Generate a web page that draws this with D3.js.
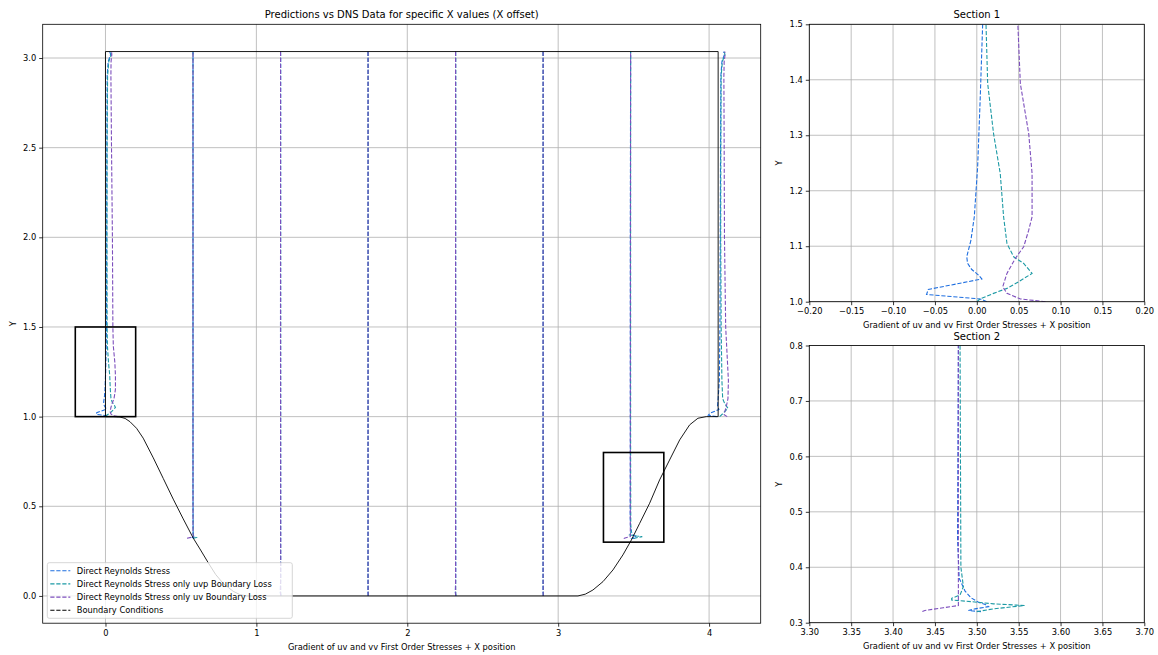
<!DOCTYPE html>
<html>
<head>
<meta charset="utf-8">
<script src="https://cdn.jsdelivr.net/npm/d3@7"></script>
<style>
  body { margin: 0; background: #fff; }
  text { font-family: "DejaVu Sans", sans-serif; fill: #000; }
</style>
</head>
<body>
<div id="myDiv"></div>
<script>
//--------------------------------------------------
// Data
//--------------------------------------------------

// x offset of every DNS station
var stationX = [0, 0.58, 1.16, 1.74, 2.32, 2.90, 3.48, 4.06];

// profiles: [y, gradient value] per station, one array per model
var directProfiles = [
  [[1.0, 0.012], [1.005, 0.004], [1.013, -0.060], [1.022, -0.058], [1.041, 0.006], [1.048, 0.002], [1.058, -0.006], [1.069, -0.011], [1.081, -0.012], [1.111, -0.007], [1.153, -0.003], [1.243, 0.001], [1.363, 0.004], [1.5, 0.007], [2.0, 0.008], [2.5, 0.009], [2.9, 0.011], [2.98, 0.018], [3.02, 0.034], [3.036, 0.028]],
  [[0.322, 0.010], [0.326, -0.004], [0.332, 0.006], [0.345, 0.001], [0.6, 0.0], [1.5, 0.0], [3.0, 0.0], [3.036, 0.0]],
  [[0.0, 0.003], [0.02, -0.002], [0.1, 0.001], [1.5, 0.0], [3.0, 0.001], [3.036, 0.0]],
  [[0.0, 0.002], [0.02, -0.001], [0.1, 0.0], [1.5, 0.0], [3.0, 0.001], [3.036, 0.0]],
  [[0.0, 0.002], [0.02, -0.002], [0.1, 0.001], [1.5, 0.0], [3.0, 0.0], [3.036, 0.0]],
  [[0.0, 0.003], [0.02, -0.001], [0.1, 0.0], [1.5, 0.0], [3.0, 0.001], [3.036, 0.0]],
  [[0.32, 0.025], [0.322, 0.010], [0.325, 0.018], [0.329, 0.034], [0.333, 0.030], [0.337, 0.022], [0.345, 0.013], [0.357, 0.006], [0.38, -0.001], [0.45, -0.003], [0.8, -0.002], [2.0, -0.002], [3.036, 0.0]],
  [[1.0, -0.010], [1.008, -0.065], [1.02, -0.050], [1.04, 0.005], [1.06, -0.004], [1.1, 0.0], [1.2, 0.008], [1.5, 0.012], [2.0, 0.014], [2.5, 0.016], [2.9, 0.018], [2.98, 0.025], [3.02, 0.042], [3.036, 0.036]]
];

var uvpProfiles = [
  [[1.0, 0.0], [1.005, 0.004], [1.015, 0.020], [1.024, 0.036], [1.036, 0.050], [1.051, 0.066], [1.069, 0.056], [1.081, 0.044], [1.105, 0.036], [1.153, 0.032], [1.231, 0.028], [1.303, 0.020], [1.393, 0.013], [1.5, 0.011], [2.0, 0.010], [2.5, 0.011], [2.9, 0.014], [2.98, 0.022], [3.02, 0.038], [3.036, 0.034]],
  [[0.322, 0.0], [0.326, 0.022], [0.334, 0.004], [0.35, 0.001], [0.6, 0.0], [1.5, 0.0], [3.0, 0.0], [3.036, 0.0]],
  [[0.0, 0.002], [0.02, 0.001], [0.1, 0.0], [1.5, 0.001], [3.0, 0.0], [3.036, 0.0]],
  [[0.0, 0.001], [0.02, 0.002], [0.1, 0.0], [1.5, 0.001], [3.0, 0.0], [3.036, 0.0]],
  [[0.0, 0.002], [0.02, 0.001], [0.1, 0.0], [1.5, 0.0], [3.0, 0.001], [3.036, 0.0]],
  [[0.0, 0.001], [0.02, 0.002], [0.1, 0.0], [1.5, 0.001], [3.0, 0.0], [3.036, 0.0]],
  [[0.32, 0.020], [0.325, 0.040], [0.331, 0.077], [0.334, 0.040], [0.337, 0.020], [0.341, -0.010], [0.344, -0.010], [0.35, 0.0], [0.365, 0.004], [0.4, 0.001], [0.8, 0.0], [3.036, 0.0]],
  [[1.0, 0.010], [1.02, 0.035], [1.047, 0.065], [1.07, 0.045], [1.1, 0.030], [1.2, 0.025], [1.5, 0.020], [2.0, 0.017], [2.5, 0.018], [2.9, 0.020], [2.98, 0.028], [3.02, 0.045], [3.036, 0.040]]
];

var uvProfiles = [
  [[1.0, 0.082], [1.005, 0.052], [1.015, 0.036], [1.027, 0.031], [1.051, 0.036], [1.078, 0.046], [1.099, 0.056], [1.129, 0.062], [1.153, 0.066], [1.231, 0.066], [1.303, 0.062], [1.393, 0.052], [1.5, 0.049], [2.0, 0.046], [2.5, 0.040], [2.9, 0.036], [2.98, 0.037], [3.02, 0.042], [3.036, 0.040]],
  [[0.322, -0.040], [0.327, -0.010], [0.334, 0.002], [0.35, 0.0], [0.6, 0.0], [1.5, 0.0], [3.0, 0.0], [3.036, 0.0]],
  [[0.0, 0.001], [0.02, 0.0], [0.1, 0.001], [1.5, 0.0], [3.0, 0.0], [3.036, 0.0]],
  [[0.0, 0.0], [0.02, 0.001], [0.1, 0.0], [1.5, 0.0], [3.0, 0.0], [3.036, 0.0]],
  [[0.0, 0.001], [0.02, 0.0], [0.1, 0.0], [1.5, 0.0], [3.0, 0.0], [3.036, 0.0]],
  [[0.0, 0.0], [0.02, 0.001], [0.1, 0.0], [1.5, 0.0], [3.0, 0.0], [3.036, 0.0]],
  [[0.32, -0.045], [0.322, -0.042], [0.327, -0.020], [0.331, -0.002], [0.34, -0.002], [0.8, -0.002], [3.036, 0.0]],
  [[1.0, 0.060], [1.01, 0.040], [1.03, 0.045], [1.06, 0.055], [1.1, 0.065], [1.2, 0.068], [1.3, 0.062], [1.5, 0.050], [2.0, 0.042], [2.5, 0.040], [2.9, 0.038], [2.98, 0.040], [3.02, 0.046], [3.036, 0.044]]
];

// channel boundary (walls + two hills)
var boundaryX = [0, 0, 0.05, 0.096, 0.13, 0.162, 0.206, 0.25, 0.317, 0.383, 0.449, 0.515, 0.582, 0.626, 0.681, 0.73, 0.78, 0.846, 0.89, 0.935,
  3.131, 3.18, 3.23, 3.297, 3.363, 3.429, 3.485, 3.54, 3.606, 3.672, 3.738, 3.805, 3.871, 3.926, 3.981, 4.06, 4.06, 0];
var boundaryY = [3.036, 1.0, 1.0, 0.998, 0.99, 0.972, 0.935, 0.88, 0.77, 0.655, 0.54, 0.43, 0.322, 0.262, 0.185, 0.12, 0.07, 0.026, 0.008, 0.0,
  0.0, 0.01, 0.033, 0.08, 0.145, 0.229, 0.312, 0.405, 0.517, 0.647, 0.758, 0.87, 0.954, 0.991, 1.0, 1.0, 3.036, 3.036];

// zoom windows: [x0, x1, y0, y1]
var section1 = [-0.2, 0.2, 1.0, 1.5];
var section2 = [3.3, 3.7, 0.3, 0.8];

var seriesNames = ['Direct Reynolds Stress', 'Direct Reynolds Stress only uvp Boundary Loss', 'Direct Reynolds Stress only uv Boundary Loss', 'Boundary Conditions'];
var seriesColors = ['#1f6fe0', '#1d9aa5', '#7d4fbd', '#000000'];

//--------------------------------------------------
// Drawing
//--------------------------------------------------
var W = 1158, H = 655;
var dash = '4.2,1.8';
var fs = 8.3;

var svg = d3.select('#myDiv').append('svg')
  .attr('width', W).attr('height', H)
  .style('display', 'block');

function makePanel(id, xDom, yDom, xRange, yRange, xTicks, yTicks, xFmt, yFmt, title) {
  var x = d3.scaleLinear().domain(xDom).range(xRange);
  var y = d3.scaleLinear().domain(yDom).range(yRange);
  var g = svg.append('g');

  svg.append('clipPath').attr('id', id)
    .append('rect')
    .attr('x', xRange[0]).attr('y', yRange[1])
    .attr('width', xRange[1] - xRange[0]).attr('height', yRange[0] - yRange[1]);

  // grid
  g.append('g').selectAll('line.gx').data(xTicks).enter().append('line')
    .attr('x1', function (d) { return x(d); }).attr('x2', function (d) { return x(d); })
    .attr('y1', yRange[0]).attr('y2', yRange[1])
    .attr('stroke', '#b0b0b0').attr('stroke-width', 0.8);
  g.append('g').selectAll('line.gy').data(yTicks).enter().append('line')
    .attr('y1', function (d) { return y(d); }).attr('y2', function (d) { return y(d); })
    .attr('x1', xRange[0]).attr('x2', xRange[1])
    .attr('stroke', '#b0b0b0').attr('stroke-width', 0.8);

  // axes
  var xAxis = d3.axisBottom(x).tickValues(xTicks).tickFormat(xFmt).tickSize(3.5).tickPadding(3);
  var yAxis = d3.axisLeft(y).tickValues(yTicks).tickFormat(yFmt).tickSize(3.5).tickPadding(3);
  var ax = svg.append('g').attr('transform', 'translate(0,' + yRange[0] + ')').call(xAxis);
  var ay = svg.append('g').attr('transform', 'translate(' + xRange[0] + ',0)').call(yAxis);
  [ax, ay].forEach(function (a) {
    a.select('.domain').remove();
    a.selectAll('line').attr('stroke', '#000').attr('stroke-width', 0.8);
    a.selectAll('text').attr('font-size', fs).attr('font-family', 'DejaVu Sans').attr('fill', '#000');
  });

  var plot = svg.append('g').attr('clip-path', 'url(#' + id + ')');

  // frame (drawn later on top)
  var frame = function () {
    svg.append('rect')
      .attr('x', xRange[0]).attr('y', yRange[1])
      .attr('width', xRange[1] - xRange[0]).attr('height', yRange[0] - yRange[1])
      .attr('fill', 'none').attr('stroke', '#000').attr('stroke-width', 0.8);
  };

  svg.append('text').attr('x', (xRange[0] + xRange[1]) / 2).attr('y', yRange[1] - 6)
    .attr('text-anchor', 'middle').attr('font-size', 10).text(title);
  svg.append('text').attr('x', (xRange[0] + xRange[1]) / 2).attr('y', yRange[0] + 26.5)
    .attr('text-anchor', 'middle').attr('font-size', fs)
    .text('Gradient of uv and vv First Order Stresses + X position');
  svg.append('text')
    .attr('transform', 'translate(' + (xRange[0] - 27) + ',' + ((yRange[0] + yRange[1]) / 2) + ') rotate(-90)')
    .attr('text-anchor', 'middle').attr('font-size', fs).text('Y');

  return { x: x, y: y, plot: plot, frame: frame };
}

function drawAll(p, isMain) {
  var line = d3.line()
    .x(function (d) { return p.x(d[0]); })
    .y(function (d) { return p.y(d[1]); });

  [directProfiles, uvpProfiles, uvProfiles].forEach(function (profiles, si) {
    profiles.forEach(function (prof, k) {
      var pts = prof.map(function (d) { return [stationX[k] + d[1], d[0]]; });
      p.plot.append('path').datum(pts)
        .attr('d', line)
        .attr('fill', 'none')
        .attr('stroke', seriesColors[si])
        .attr('stroke-width', 1.1)
        .attr('stroke-dasharray', dash);
    });
  });

  if (!isMain) return;

  var bnd = boundaryX.map(function (v, i) { return [v, boundaryY[i]]; });
  p.plot.append('path').datum(bnd)
    .attr('d', line)
    .attr('fill', 'none')
    .attr('stroke', '#000')
    .attr('stroke-width', 0.9)
    .attr('stroke-linejoin', 'round');

  [section1, section2].forEach(function (s) {
    p.plot.append('rect')
      .attr('x', p.x(s[0])).attr('y', p.y(s[3]))
      .attr('width', p.x(s[1]) - p.x(s[0]))
      .attr('height', p.y(s[2]) - p.y(s[3]))
      .attr('fill', 'none').attr('stroke', '#000').attr('stroke-width', 1.6);
  });
}

// main panel
var main = makePanel('clipMain', [-0.416, 4.342], [-0.152, 3.188], [42.7, 760.7], [623.2, 24.3],
  [0, 1, 2, 3, 4], [0, 0.5, 1, 1.5, 2, 2.5, 3],
  d3.format('d'), d3.format('.1f'),
  'Predictions vs DNS Data for specific X values (X offset)');
drawAll(main, true);
main.frame();

// legend
var lg = svg.append('g').attr('transform', 'translate(47.3,562.7)');
lg.append('rect').attr('width', 245).attr('height', 55.6).attr('rx', 2)
  .attr('fill', '#fff').attr('fill-opacity', 0.8)
  .attr('stroke', '#cccccc').attr('stroke-width', 0.8);
seriesNames.forEach(function (name, i) {
  var yy = 8 + i * 13.2;
  lg.append('line').attr('x1', 3).attr('x2', 23).attr('y1', yy).attr('y2', yy)
    .attr('stroke', seriesColors[i]).attr('stroke-width', 1.1).attr('stroke-dasharray', dash);
  lg.append('text').attr('x', 29.5).attr('y', yy + 3).attr('font-size', fs).text(name);
});

// section 1
var s1 = makePanel('clipS1', [section1[0], section1[1]], [section1[2], section1[3]], [809.3, 1144.3], [301.7, 24.3],
  d3.range(-0.2, 0.2001, 0.05).map(function (v) { return +v.toFixed(2); }),
  d3.range(1.0, 1.5001, 0.1).map(function (v) { return +v.toFixed(1); }),
  d3.format('.2f'), d3.format('.1f'), 'Section 1');
drawAll(s1, false);
s1.frame();

// section 2
var s2 = makePanel('clipS2', [section2[0], section2[1]], [section2[2], section2[3]], [809.3, 1144.3], [622.7, 345.5],
  d3.range(3.3, 3.7001, 0.05).map(function (v) { return +v.toFixed(2); }),
  d3.range(0.3, 0.8001, 0.1).map(function (v) { return +v.toFixed(1); }),
  d3.format('.2f'), d3.format('.1f'), 'Section 2');
drawAll(s2, false);
s2.frame();
</script>
</body>
</html>
